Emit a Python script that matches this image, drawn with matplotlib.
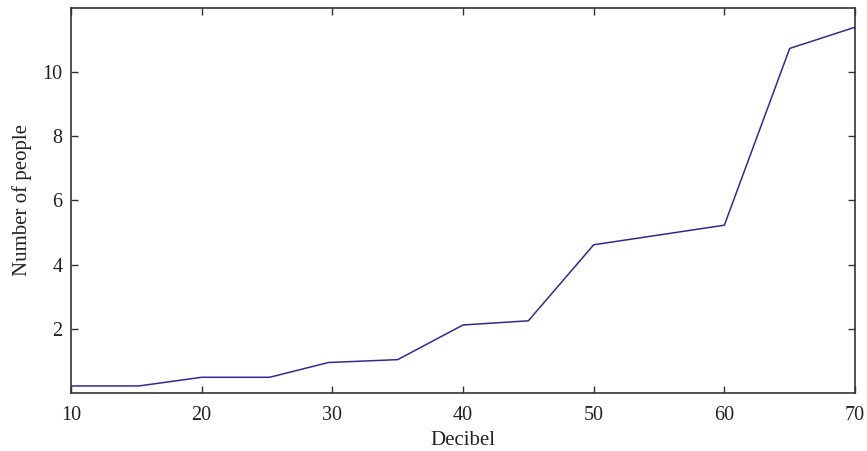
import numpy as np
import matplotlib
matplotlib.use('Agg')
from matplotlib import pyplot as plt

# values
decibel = [10, 15.2, 20, 25.2, 29.7, 35, 40, 45, 50, 60, 65, 70]
people = [0.22, 0.22, 0.49, 0.49, 0.95, 1.04, 2.12, 2.25, 4.62, 5.23, 10.74, 11.4]
xticks = [10, 20, 30, 40, 50, 60, 70]
yticks = [2, 4, 6, 8, 10]

plt.rcParams['font.family'] = ['Liberation Serif', 'DejaVu Serif']

fig = plt.figure(figsize=(8.67, 4.51), dpi=100)
ax = fig.add_axes([0.0819, 0.1286, 0.9043, 0.8537])

ax.plot(decibel, people, color='#2e2a96', linewidth=1.1)

ax.set_xlim(10, 70)
ax.set_ylim(0, 12)
ax.set_xticks(xticks)
ax.set_yticks(yticks)
ax.tick_params(direction='in', top=True, right=True, length=5, width=1,
               color='#333333', labelsize=14.5, labelcolor='#222222')
ax.tick_params(axis='x', pad=9)
ax.tick_params(axis='y', pad=6)
for s in ax.spines.values():
    s.set_color('#333333')
    s.set_linewidth(1.2)

ax.set_xlabel('Decibel', fontsize=15, color='#222222', labelpad=5)
ax.set_ylabel('Number of people', fontsize=15, color='#222222', labelpad=7.5)

fig.savefig('out.png', dpi=100)
